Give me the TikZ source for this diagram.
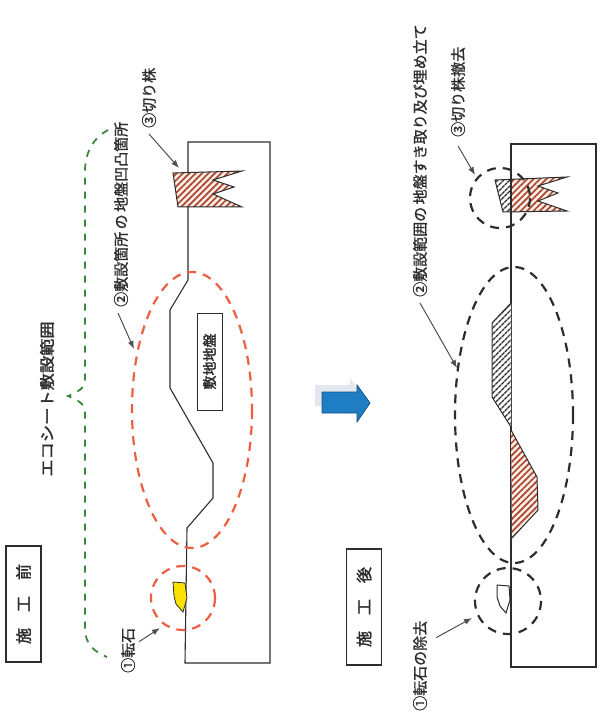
\documentclass[tikz,border=0pt]{standalone}
\usepackage{fontspec}
\setmainfont{Noto Sans CJK JP}[AutoFakeBold=2]
\newfontfamily\calloutfont{Noto Sans CJK JP}[FakeBold=1.2]
\usetikzlibrary{patterns.meta,arrows.meta}

\definecolor{ink}{RGB}{45,45,45}
\definecolor{dashred}{RGB}{238,95,65}
\definecolor{dashgreen}{RGB}{60,135,60}
\definecolor{hatchred}{RGB}{170,70,50}
\definecolor{hatchbg}{RGB}{252,238,228}
\definecolor{stoneyellow}{RGB}{250,225,0}
\definecolor{arrowblue}{RGB}{30,125,195}
\definecolor{arrowedge}{RGB}{20,80,130}
\definecolor{shadowgray}{RGB}{226,232,238}
\definecolor{leader}{RGB}{80,80,80}

\begin{document}
\begin{tikzpicture}[x=1pt,y=-1pt,
  ground/.style={draw=ink,line width=1.1pt,fill=white},
  redhatch/.style={pattern={Lines[angle=45,distance=4.5pt,line width=1.7pt]},pattern color=hatchred},
  blackhatch/.style={pattern={Lines[angle=45,distance=4pt,line width=1.4pt]},pattern color=ink},
  reddash/.style={draw=dashred,line width=2.2pt,dash pattern=on 9pt off 7pt},
  blackdash/.style={draw=ink,line width=2.2pt,dash pattern=on 9pt off 7pt},
  greenbrace/.style={draw=dashgreen,line width=1.8pt,dash pattern=on 7pt off 7pt},
  callout/.style={draw=leader,line width=1pt,-{Latex[length=8pt,width=6pt]}},
  label/.style={rotate=90,font=\fontsize{15}{15}\calloutfont,text=ink,inner sep=1pt},
  stagebox/.style={draw=ink,line width=1.1pt,rotate=90,minimum width=116pt,minimum height=35pt,
    font=\fontsize{16}{16}\selectfont\bfseries,text=ink,inner sep=0pt},
]
\useasboundingbox (0,0) rectangle (604,719);

% ---------------- before construction ----------------
\node[stagebox] (before) at (23.5,604) {施\quad 工\quad 前};

% ground section with uneven surface
\draw[ground] (188,142) -- (188,280) -- (170,310) -- (170,388) -- (213,463)
  -- (213,498) -- (187,528) -- (185,663) -- (270,663) -- (270,142) -- cycle;

% tree stump
\filldraw[fill=hatchbg,draw=none] (173,173) -- (242,171) -- (213,180) -- (234,187) -- (213,194)
  -- (242,207) -- (178,207) -- cycle;
\filldraw[redhatch,draw=ink,line width=1pt] (173,173) -- (242,171) -- (213,180) -- (234,187) -- (213,194)
  -- (242,207) -- (178,207) -- cycle;

% boulder
\filldraw[fill=stoneyellow,draw=ink,line width=0.8pt] (173,582) -- (185,583) -- (187,598)
  -- (183,612) -- (176,604) -- (174,596) -- cycle;

% marked areas
\draw[reddash] (183,598) circle [radius=32];
\draw[reddash] (192,410) ellipse [x radius=60, y radius=138];

% sheet extent brace
\draw[greenbrace] (108,130) .. controls (95,137) and (85,150) .. (85,172) -- (85,380)
  .. controls (85,388) and (78,392) .. (68,396) .. controls (78,400) and (85,404) .. (85,412)
  -- (85,628) .. controls (85,645) and (95,652) .. (107,657);

\node[rotate=90,font=\fontsize{15}{15}\selectfont\bfseries,text=ink,xscale=1.15] (title) at (47,399) {エコシート敷設範囲};

\node[draw=ink,line width=1pt,rotate=90,minimum width=97pt,minimum height=25pt,inner sep=0pt,
  font=\fontsize{14}{14}\selectfont\bfseries,text=ink] (base) at (209.5,361.5) {敷地地盤};

\node[label,anchor=west] (lstone) at (128,674) {①転石};
\node[label,anchor=west] (lsurf) at (121,308) {②敷設箇所\,の\,地盤凹凸箇所};
\node[label,anchor=west] (lstump) at (149,129) {③切り株};

\coordinate (tstone) at (160,628);
\coordinate (tsurf) at (134,349);
\coordinate (tstump) at (179,168);
\draw[callout] ([shift={(3,15)}]lstone.south east) -- (tstone);
\draw[callout] ([shift={(-3,5)}]lsurf.west) -- (tsurf);
\draw[callout] ([shift={(0,5)}]lstump.west) -- (tstump);

% ---------------- arrow between stages ----------------
\fill[shadowgray] (315,385) -- (350,385) -- (350,378) -- (363,396) -- (350,415) -- (350,406) -- (315,406) -- cycle;
\filldraw[fill=arrowblue,draw=arrowedge,line width=0.8pt] (322,392) -- (357,392) -- (357,385)
  -- (370,403) -- (357,422) -- (357,413) -- (322,413) -- cycle;

% ---------------- after construction ----------------
\node[stagebox] (after) at (364,607) {施\quad 工\quad 後};

\draw[ground] (511,144) rectangle (596,667);

% scraped part of the mound
\filldraw[fill=white,draw=none] (511,303) -- (492,323) -- (492,397) -- (511,427) -- cycle;
\filldraw[blackhatch,draw=ink,line width=1pt] (511,303) -- (492,323) -- (492,397) -- (511,427);
% filled part of the hollow
\filldraw[fill=hatchbg,draw=none] (511,430) -- (537,477) -- (538,510) -- (512,538) -- cycle;
\filldraw[redhatch,draw=ink,line width=1pt] (511,430) -- (537,477) -- (538,510) -- (512,538);

% removed stump
\begin{scope}
  \clip (480,160) rectangle (511,225);
  \fill[fill=white] (495,180) -- (567,177) -- (538,186) -- (558,193) -- (538,201) -- (567,211) -- (503,212) -- cycle;
  \fill[blackhatch] (495,180) -- (567,177) -- (538,186) -- (558,193) -- (538,201) -- (567,211) -- (503,212) -- cycle;
\end{scope}
\begin{scope}
  \clip (511,160) rectangle (580,225);
  \fill[fill=hatchbg] (495,180) -- (567,177) -- (538,186) -- (558,193) -- (538,201) -- (567,211) -- (503,212) -- cycle;
  \fill[redhatch] (495,180) -- (567,177) -- (538,186) -- (558,193) -- (538,201) -- (567,211) -- (503,212) -- cycle;
\end{scope}
\draw[draw=ink,line width=1pt] (495,180) -- (567,177) -- (538,186) -- (558,193) -- (538,201)
  -- (567,211) -- (503,212) -- cycle;
\draw[ink,line width=1.1pt] (511,144) -- (511,230);

% outline of the removed boulder
\draw[ink,line width=1pt] (497,585) -- (509,586) -- (510,600) -- (506,613) -- (500,606) -- (497,597) -- cycle;

\draw[blackdash] (500,198) circle [radius=30];
\draw[blackdash] (508,601) circle [radius=33];
\draw[blackdash] (514,415) ellipse [x radius=59, y radius=148];

\node[label,anchor=west] (rstone) at (420,712) {①転石の除去};
\node[label,anchor=west] (rarea) at (420,298) {②敷設範囲の\,地盤すき取り及び埋め立て};
\node[label,anchor=west] (rstump) at (458,138) {③切り株撤去};

\coordinate (tarea) at (457,368);
\coordinate (trstone) at (472,618);
\coordinate (trstump) at (475,175);
\draw[callout] ([shift={(8,18)}]rstone.south east) -- (trstone);
\draw[callout] ([shift={(0,5)}]rarea.west) -- (tarea);
\draw[callout] ([shift={(0,8)}]rstump.west) -- (trstump);
\end{tikzpicture}
\end{document}
